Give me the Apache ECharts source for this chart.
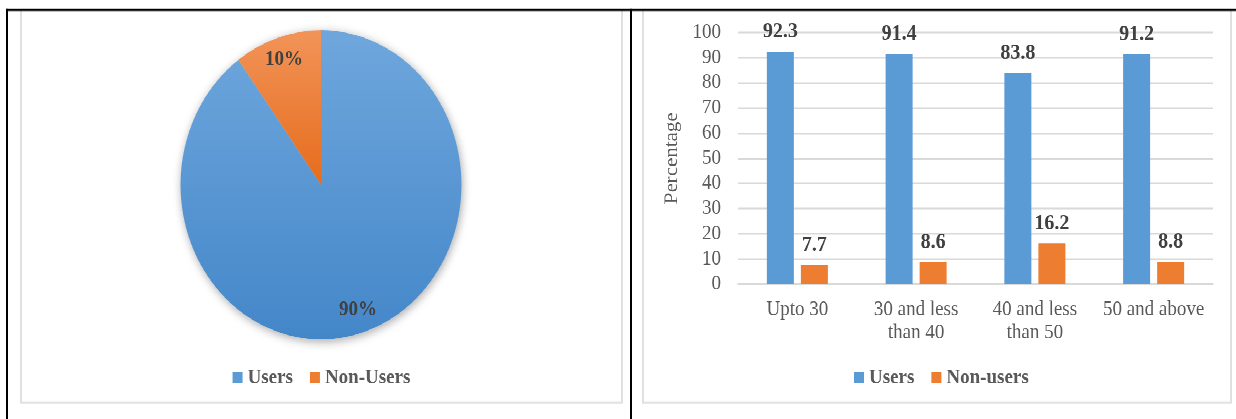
<!DOCTYPE html>
<html>
<head>
<meta charset="utf-8">
<script src="https://cdn.jsdelivr.net/npm/echarts@6/dist/echarts.min.js"></script>
<style>
  html, body { margin: 0; padding: 0; background: #fff; }
  body { width: 1236px; height: 419px; position: relative; overflow: hidden; }
  /* the page is laid out on a 381px-tall sheet and stretched to 419px tall */
  #page { position: absolute; left: 0; top: 0; width: 1236px; height: 381px;
          transform: scaleY(1.1); transform-origin: 0 0; }
  .rule { position: absolute; background: #000; }
  .panel { position: absolute; box-sizing: border-box; border: 2px solid #e0e0e0; background: #fff; }
  .chart { position: absolute; }
</style>
</head>
<body>
<div id="page">
  <!-- table rules -->
  <div class="panel" style="left:20px; top:8.2px; width:603px; height:359px;"></div>
  <div class="panel" style="left:642px; top:8.2px; width:590px; height:359px;"></div>
  <div class="rule" style="left:6px; top:8.2px; width:1230px; height:1.8px;"></div>
  <div class="rule" style="left:6px; top:8.2px; width:2px; height:373px;"></div>
  <div class="rule" style="left:630px; top:8.2px; width:2px; height:373px;"></div>

  <div id="pie" class="chart" style="left:21px; top:10px; width:601px; height:356px;"></div>
  <div id="bar" class="chart" style="left:643px; top:10px; width:587px; height:356px;"></div>
</div>

<script>
// ---- data ----
const pieNames = ['Users', 'Non-Users'];
const pieValues = [90, 10];

const ageGroups = ['Upto 30', '30 and less\nthan 40', '40 and less\nthan 50', '50 and above'];
const usersPct = [92.3, 91.4, 83.8, 91.2];
const nonUsersPct = [7.7, 8.6, 16.2, 8.8];
const barSeriesNames = ['Users', 'Non-users'];

const yTicks = { min: 0, max: 100, interval: 10 };

// ---- styling ----
const FONT = "'Liberation Serif', 'Times New Roman', serif";
const BLUE = '#5b9bd5';
const ORANGE = '#ed7d31';
const TEXT_GRAY = '#595959';
const LABEL_DARK = '#404040';

function vGrad(top, bottom) {
  return new echarts.graphic.LinearGradient(0, 0, 0, 1, [
    { offset: 0, color: top },
    { offset: 1, color: bottom }
  ]);
}

const pieCenter = [300, 158];
const pieRadius = 140.5;

const pieData = pieNames.map((n, i) => ({ name: n, value: pieValues[i] }));
const sliceFill = [vGrad('#6fa7dd', '#4487c9'), vGrad('#f29459', '#e66c1c')];

const legendBase = {
  top: 319,
  icon: 'rect',
  itemWidth: 10,
  itemHeight: 10,
  itemGap: 17,
  textStyle: { fontFamily: FONT, fontSize: 19, fontWeight: 'bold', color: TEXT_GRAY }
};

const pieChart = echarts.init(document.getElementById('pie'), null, { renderer: 'canvas', devicePixelRatio: 2 });
pieChart.setOption({
  animation: false,
  legend: Object.assign({}, legendBase, {
    left: 'center',
    data: [
      { name: pieNames[0], itemStyle: { color: BLUE } },
      { name: pieNames[1], itemStyle: { color: ORANGE } }
    ]
  }),
  series: [
    {
      // visible slices
      type: 'pie',
      z: 3,
      center: pieCenter,
      radius: pieRadius,
      startAngle: 90,
      clockwise: true,
      label: { show: false },
      labelLine: { show: false },
      emphasis: { disabled: true },
      data: pieData.map((d, i) => ({ ...d, itemStyle: { color: sliceFill[i], borderWidth: 0 } }))
    },
    {
      // soft drop shadow under the whole pie
      type: 'pie',
      z: 1,
      silent: true,
      center: pieCenter,
      radius: pieRadius,
      startAngle: 90,
      clockwise: true,
      label: { show: false },
      labelLine: { show: false },
      itemStyle: {
        color: '#ffffff',
        shadowBlur: 9,
        shadowColor: 'rgba(0,0,0,0.35)',
        shadowOffsetX: 1,
        shadowOffsetY: 2
      },
      data: pieData
    },
    {
      // percentage labels near the rim
      type: 'pie',
      z: 4,
      silent: true,
      center: pieCenter,
      radius: [pieRadius * 0.66, pieRadius],
      startAngle: 90,
      clockwise: true,
      itemStyle: { color: 'rgba(0,0,0,0)' },
      label: {
        show: true,
        position: 'inside',
        formatter: '{d}%',
        fontFamily: FONT,
        fontSize: 19,
        fontWeight: 'bold',
        color: LABEL_DARK
      },
      labelLine: { show: false },
      data: pieData
    }
  ]
});

const barChart = echarts.init(document.getElementById('bar'), null, { renderer: 'canvas', devicePixelRatio: 2 });
const barLabel = {
  show: true,
  position: 'top',
  distance: 8,
  fontFamily: FONT,
  fontSize: 20,
  fontWeight: 'bold',
  color: LABEL_DARK
};
barChart.setOption({
  animation: false,
  color: [BLUE, ORANGE],
  grid: { left: 95, right: 17, top: 19.4, bottom: 107.8 },
  legend: Object.assign({}, legendBase, { left: 206, data: barSeriesNames }),
  xAxis: {
    type: 'category',
    data: ageGroups,
    axisLine: { lineStyle: { color: '#d9d9d9', width: 1.5 } },
    axisTick: { show: false },
    axisLabel: {
      fontFamily: FONT,
      fontSize: 19,
      color: TEXT_GRAY,
      lineHeight: 21,
      margin: 13,
      interval: 0
    }
  },
  yAxis: {
    type: 'value',
    min: yTicks.min,
    max: yTicks.max,
    interval: yTicks.interval,
    name: 'Percentage',
    nameLocation: 'middle',
    nameRotate: 90,
    nameGap: 45,
    nameTextStyle: { fontFamily: FONT, fontSize: 19, color: TEXT_GRAY },
    axisLine: { show: false },
    axisTick: { show: false },
    axisLabel: { fontFamily: FONT, fontSize: 19, color: TEXT_GRAY, margin: 17 },
    splitLine: { lineStyle: { color: '#d9d9d9', width: 1.4 } }
  },
  series: [
    {
      name: barSeriesNames[0],
      type: 'bar',
      barWidth: 27,
      barGap: '26%',
      data: usersPct,
      label: barLabel
    },
    {
      name: barSeriesNames[1],
      type: 'bar',
      barWidth: 27,
      data: nonUsersPct,
      label: barLabel
    }
  ]
});
</script>
</body>
</html>
